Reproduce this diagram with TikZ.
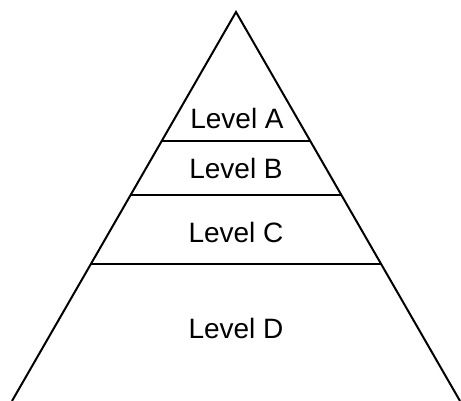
\documentclass[tikz,border=0pt]{standalone}
\usepackage{fontspec}
\setmainfont{Liberation Sans}
\usetikzlibrary{calc}
\definecolor{ink}{HTML}{000000}
\tikzset{
  edge/.style={draw=ink, line width=1pt},
  lvl/.style={font=\fontsize{14}{17}\selectfont, text=ink, inner sep=0pt}
}

\begin{document}
\begin{tikzpicture}[x=0.5pt, y=-0.5pt]
  \useasboundingbox (0,0) rectangle (461,401);
  % outline
  \coordinate (apex) at (236,12);
  \coordinate (bl) at (12,401);
  \coordinate (br) at (460,401);
  \draw[edge] (bl) -- (apex) -- (br);
  % level dividers
  \foreach \f/\n in {0.3316/ab, 0.4704/bc, 0.6478/cd} {
    \draw[edge] ($(apex)!\f!(bl)$) coordinate (\n l) -- ($(apex)!\f!(br)$) coordinate (\n r);
  }
  % labels
  \node[lvl] (A) at (237,118) {Level A};
  \node[lvl] (B) at (236,168) {Level B};
  \node[lvl] (C) at (236,232) {Level C};
  \node[lvl] (D) at (236,328) {Level D};
\end{tikzpicture}
\end{document}
